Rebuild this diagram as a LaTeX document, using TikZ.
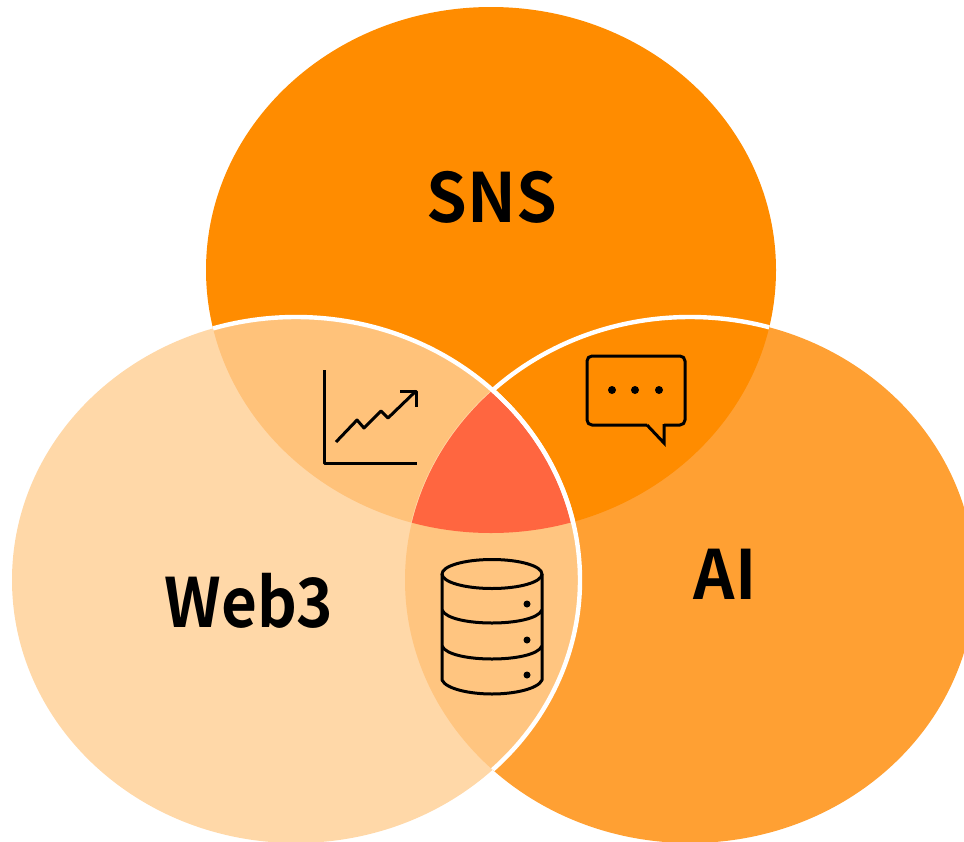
\documentclass[tikz,border=0pt]{standalone}
\usepackage{fontspec}
\setmainfont{Noto Sans CJK JP}[BoldFont={Noto Sans CJK JP Bold}]
\definecolor{snsc}{HTML}{FF8C00}
\definecolor{webc}{HTML}{FFD8A8}
\definecolor{aic}{HTML}{FFA033}
\definecolor{swc}{HTML}{FFC27A}
\definecolor{wac}{HTML}{FFC580}
\definecolor{midc}{HTML}{FF6640}
\tikzset{
  icon/.style={draw=black,line width=3pt,line cap=butt,line join=round},
  iconr/.style={icon,rounded corners=5pt},
  dot/.style={fill=black},
  edge/.style={draw=white,line width=4.4pt},
  lab/.style={font=\bfseries\fontsize{68}{68}\selectfont,text=black,inner sep=0pt}
}
\def\snsp{(491,270) ellipse [x radius=285,y radius=263]}
\def\webp{(296,580) ellipse [x radius=284,y radius=263]}
\def\aip{(690,580) ellipse [x radius=285,y radius=263]}
\begin{document}
\begin{tikzpicture}[x=1pt,y=-1pt]
\useasboundingbox (0,0) rectangle (964,841);
\clip (0,0) rectangle (964,841);
\fill[snsc] \snsp;
\fill[aic] \aip;
\begin{scope}\clip \snsp; \fill[snsc] \aip; \draw[edge] \aip; \end{scope}
\fill[webc] \webp;
\begin{scope}\clip \webp; \fill[swc] \snsp; \fill[wac] \aip; \end{scope}
\begin{scope}\clip \snsp; \clip \webp; \draw[webc,line width=1.5pt] \aip; \end{scope}
\begin{scope}\clip \snsp; \clip \webp; \clip \aip; \fill[midc] (0,0) rectangle (964,841); \end{scope}
\begin{scope}\clip \snsp; \draw[edge] \webp; \end{scope}
\begin{scope}\clip \aip; \draw[edge] \webp; \end{scope}
% labels
\node[lab,xscale=.96] (sns) at (492,197) {SNS};
\node[lab,xscale=.91] (web) at (249,601) {Web3};
\node[lab,xscale=.95] (ai) at (725,574) {AI};
% chart icon
\draw[icon] (324,370) -- (324,463) -- (417,463);
\draw[icon] (336,442) -- (357,420) -- (364,428) -- (381,411) -- (388,418) -- (416,391);
\draw[icon] (400,391) -- (416,391) -- (416,407);
% bubble icon
\draw[iconr] (647,425) -- (587,425) -- (587,356) -- (685,356) -- (685,425) -- (664,425);
\draw[icon,line join=miter] (647,425) -- (664,443) -- (664,424);
\fill[dot] (612,390) circle (4) (635,390) circle (4) (659,390) circle (4);
% database icon
\draw[icon] (492,574) ellipse [x radius=50,y radius=14.5];
\draw[icon] (442,574) -- (442,680) .. controls (446,689) and (470,694) .. (492,694) .. controls (514,694) and (538,689) .. (542,680) -- (542,574);
\draw[icon] (442,610) .. controls (446,619) and (470,623) .. (492,623) .. controls (514,623) and (538,619) .. (542,610);
\draw[icon] (442,646) .. controls (446,655) and (470,659) .. (492,659) .. controls (514,659) and (538,655) .. (542,646);
\fill[dot] (527,604) circle (3.5) (527,640) circle (3.5) (527,675) circle (3.5);
\end{tikzpicture}
\end{document}
